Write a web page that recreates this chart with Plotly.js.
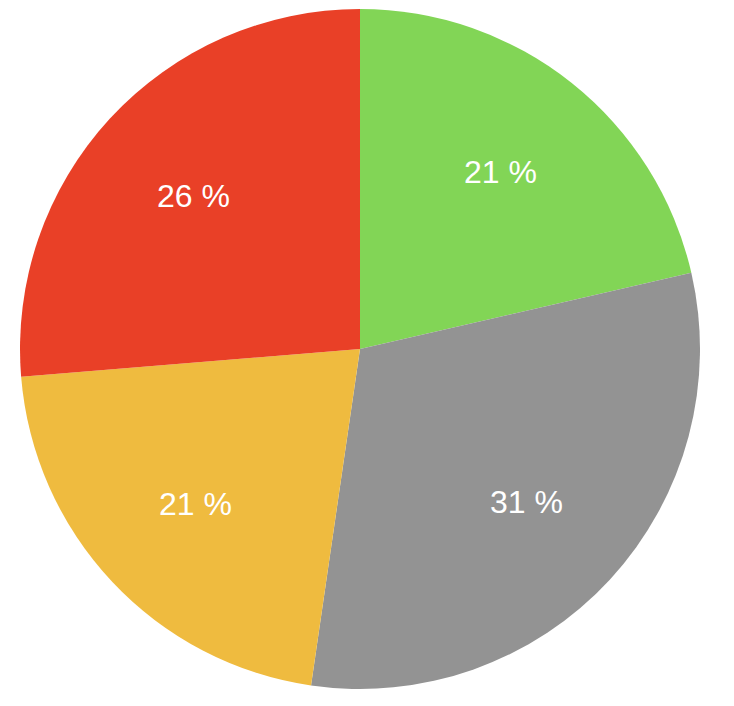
<!DOCTYPE html>
<html>
<head>
<meta charset="utf-8">
<script src="https://cdn.plot.ly/plotly-3.0.1.min.js"></script>
<style>html,body{margin:0;padding:0;background:#fff;}#chart{width:734px;height:706px;}</style>
</head>
<body>
<div id="chart"></div>
<script>
const categories = ["A", "B", "C", "D"];
const values = [21.4, 30.9, 21.4, 26.3];
const colors = ["#82D556", "#939393", "#EFBB3F", "#E94027"];

const total = values.reduce((a, b) => a + b, 0);
const labelsText = values.map(v => Math.round(v / total * 100) + " %");

// annotation positions derived from the slice angles
const annotations = [];
let cum = 0;
const rFrac = 0.665;
values.forEach((v, i) => {
  const mid = (cum + v / 2) / total * 2 * Math.PI;
  cum += v;
  annotations.push({
    x: 0.5 + 0.5 * rFrac * Math.sin(mid),
    y: 0.5 + 0.5 * rFrac * Math.cos(mid),
    xref: "paper", yref: "paper",
    text: labelsText[i],
    showarrow: false,
    font: {family: "Liberation Sans, Arial, sans-serif", size: 32, color: "#ffffff"},
    xanchor: "center", yanchor: "middle"
  });
});

const data = [{
  type: "pie",
  labels: categories,
  values: values,
  sort: false,
  direction: "clockwise",
  rotation: 0,
  textinfo: "none",
  hoverinfo: "none",
  marker: {colors: colors, line: {width: 0}},
  domain: {x: [0, 1], y: [0, 1]}
}];

const layout = {
  width: 734,
  height: 706,
  margin: {l: 20, r: 34, t: 9, b: 17},
  showlegend: false,
  paper_bgcolor: "#ffffff",
  annotations: annotations
};

Plotly.newPlot("chart", data, layout, {displayModeBar: false, staticPlot: true});
</script>
</body>
</html>
